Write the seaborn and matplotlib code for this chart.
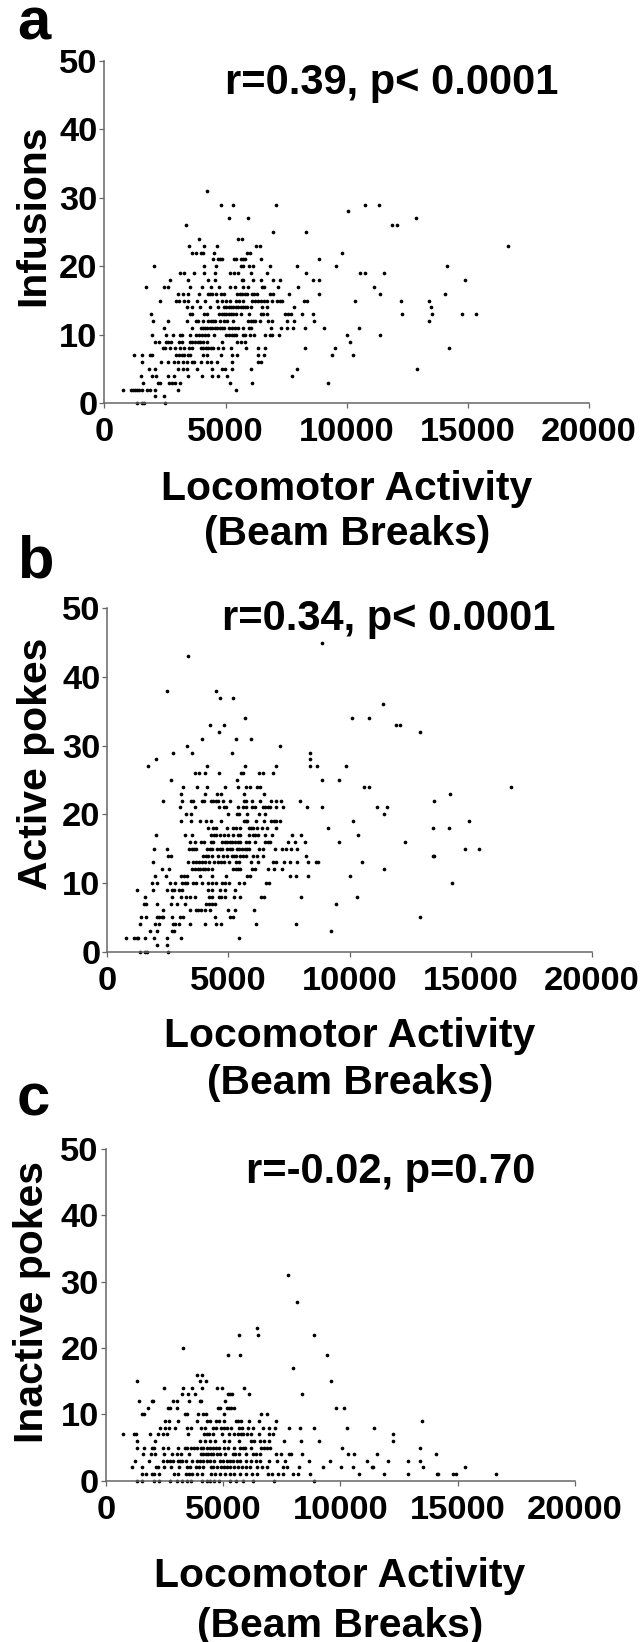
import matplotlib
matplotlib.use("Agg")
import matplotlib.pyplot as plt
import pandas as pd
import seaborn as sns

sns.set_theme(style="white")
plt.rcParams['font.family'] = ['Liberation Sans', 'DejaVu Sans']

# y value of each row of points, with the locomotor counts seen on that row
infusions_y = [31,29,28,27,26,25,24,23,22,21,20,19,18,17,16,15,14,13,12,11,10,9,8,7,6,5,4,3,2,1,0]
infusions_x = [
 [4230],
 [4795,5300,7100,10770,11340],
 [10060],
 [5150,5930,12840],
 [3360,11880,12070],
 [6960,8300],
 [3900,5520,5670],
 [3480,4110,4630,6250,6410,16650],
 [3620,3780,4000,4070,4520,5890,5990,9810],
 [4490,4670,4780,4860,5330,5410,5620,5700,5780,6440,8850],
 [2030,4110,4590,5630,5730,5960,6150,6840,7950,9550,14120],
 [3120,3290,3700,4110,4560,5180,5340,5520,6040,6700,8330,10550,10770,11540],
 [2710,3450,4270,4560,5660,5730,6150,6450,6950,7250,8620,8840,14900],
 [1700,2440,2620,3510,4030,4380,4710,5180,5380,5730,5930,6490,6580,7180,7970,11110],
 [3040,3220,3430,3890,4270,4360,4450,4600,4800,4950,5480,5580,5670,5800,5900,6100,6180,6280,6840,6970,7600,8840,11380,14050],
 [2300,2970,3060,3270,3440,3810,4160,4660,4850,5010,5180,5430,5550,5700,6070,6230,6350,6480,6580,6690,6930,7110,7230,7340,8220,8340,10320,12240,13400],
 [3410,3620,3950,4370,4690,4930,5010,5120,5230,5320,5430,5530,5620,5700,5800,5890,6040,6490,6700,7820,13460],
 [1920,3510,3600,4110,4230,4740,4840,4930,5010,5120,5230,5320,5430,5630,5950,6440,6550,6710,7470,7580,7700,8150,8620,12270,13500,14750,15330],
 [2010,2620,3410,3780,3880,4080,4290,4380,4490,4580,4770,4930,5070,5290,5930,6040,6140,6230,6410,6750,6930,7550,7840,8660,13400],
 [2470,3630,3970,4060,4150,4250,4360,4450,4560,4660,4770,4860,4950,5150,5260,5380,5520,5700,5950,6030,6880,7290,7520,7780,8290,9080,10490],
 [1950,2530,2810,3100,3210,3530,3790,3890,4030,4150,4290,4520,5000,5150,5260,5360,5440,5730,5800,6000,6180,6620,6840,6930,7210,10000,11380],
 [2070,2230,2530,2640,2740,3060,3210,3510,3600,3740,3850,3960,4080,4230,4840,5470,5630,5820,10120],
 [2400,2480,2710,2920,3120,3300,3490,3600,3990,4080,4190,4290,4380,4490,4670,4880,5210,5860,6330,6640,8260,9520,14220],
 [1230,1550,1860,1960,2960,3060,3190,3300,3440,3530,4080,4250,4810,5260,5470,6320,6580,9410,10270],
 [1560,2320,2640,2850,3030,3220,3410,3620,3700,3970,4220,4410,4660,5270,6340,6480],
 [1850,2070,3030,3220,3400,3810,4450,4850,4960,5250,6060,7960,12890],
 [1520,1970,2120,2630,2850,3430,4010,4450,4700,5040,7750],
 [1600,2190,2300,2660,2790,2930,3120,5190,6100,9220],
 [750,1090,1180,1260,1340,1420,1550,1750,1890,2080,3040,5440],
 [2080,2470],
 [1340,1550,1640,2480],
]

active_y = [45,43,38,37,36,34,33,32,31,30,29,28,27,26,25,24,23,22,21,20,19,18,17,16,15,14,13,12,11,10,9,8,7,6,5,4,3,2,1,0]
active_x = [
 [8860],
 [3350],
 [2460,4500],
 [4640,5200],
 [11370],
 [5680,10080,10790],
 [4240,4810,11910,12090],
 [4600,12890],
 [3910,5310,5950],
 [3280,7110],
 [2720,3490,5160,8360],
 [2030,8350],
 [1700,4100,5680,6970,8350,8640,9830],
 [3620,3780,4040,4590,5530,5590,6260,6410,6850],
 [2610,5340,8870,9580],
 [3140,3690,4100,4860,5410,5740,5900,6160,6300,10590,10780,16660],
 [3060,4040,4520,4680,5620,6450,14130],
 [2310,3090,3450,3530,3900,4010,4280,4370,4480,4560,4760,5050,5630,5710,5990,6300,6760,6960,7180,7960,13480],
 [2990,3620,4610,4830,4890,5380,5600,5710,5990,6080,6430,6520,6620,6710,6950,7260,8250,8870,11130,11550],
 [3240,3450,4970,5350,5450,5770,6250,6520,11420],
 [3060,3450,3820,4090,4270,4700,5620,5710,5780,6120,6450,6770,6870,6970,7110,10130,14920],
 [4170,4370,4480,4920,5190,5300,5460,5840,5930,6030,6180,6370,6580,6970,9100,13420,14080],
 [2020,3210,3500,4280,4390,4500,4670,4830,4990,5200,5380,5490,5840,6030,6110,6230,6510,6780,7620,7980,10340],
 [3430,3620,3870,3980,4260,4350,4750,4860,4940,5050,5130,5270,5380,5480,5710,5850,6100,6510,6620,6710,7470,7730,8160,9560,12270],
 [1940,2460,3380,3490,3580,3680,4120,4230,4320,4540,4640,4750,4940,5050,5150,5340,5440,5550,5670,5770,5850,6250,6440,6930,7190,7370,7570,7840,14780,15340],
 [2510,2640,3950,4060,4170,4310,4560,4760,4940,5130,5220,5330,5460,5600,5740,6010,6190,6430,8180,13420,13500],
 [1890,3350,3540,3640,3780,3900,4040,4200,4390,4570,4680,4830,5030,5290,5450,5930,6210,6840,6950,7280,7550,7840,8290,8620,8700,10520],
 [2240,2530,3510,3620,3730,3840,3950,4050,4160,4320,5180,5290,5380,5490,5970,6110,6620,6890,7220,11400],
 [1960,2420,3060,3170,3280,3830,4300,4900,5780,5880,7520,7800,8280,10020],
 [1830,2060,2600,2810,3090,3200,3270,3530,3640,3900,4150,4320,4490,4750,4870,5030,5450,5640,6560,6660,14220],
 [1220,1880,2460,2690,2770,2950,3100,4150,4340,4640,4850,5260],
 [1570,2690,3030,3230,3430,3620,4200,4300,4610,4700,4860,5220,5460,6330,6470,7980,10300],
 [1510,1580,2070,2640,2860,3200,4090,4200,4310,4450,9430],
 [2310,3420,3650,3760,3870,4040,4240,4980,5260,6070],
 [1390,1610,2060,2140,2240,2310,2650,3010,3120,4460,5050,5200,12910],
 [1350,1950,2140,2720,2790,2950,3430,4020,4480,4710,6120,7770],
 [1780,2070,2680,2770,9240],
 [760,1100,1210,1280,1550,1920,2460,3050,5450],
 [2070,2460],
 [1330,1540,1620,2490],
]

inactive_y = [31,27,23,22,20,19,17,16,15,14,13,12,11,10,9,8,7,6,5,4,3,2,1,0]
inactive_x = [
 [7770],
 [8170],
 [6460],
 [5690,6480,8880],
 [3290],
 [5200,5740,9440],
 [7980],
 [3880,4090],
 [1350,4030,4260,9590],
 [2470,3290,3690,4090,4730,4970,5890],
 [3240,3490,3810,5230,5300,5370,6120,8360],
 [1410,1970,2030,2870,3050,3550,4020,4080,5070],
 [1790,2640,2740,3050,4770,4860,5150,5250,5350,5450,9830,10140],
 [1560,1650,3370,3460,3920,4130,4290,5060,6630,6890],
 [2540,2680,3100,3880,4330,4430,4690,4830,5030,5540,5650,5780,6110,6550,7260,13470],
 [2330,2540,2680,2940,3450,3640,4060,4250,4560,4700,4900,5060,5180,5350,5680,5790,6060,6260,6700,6970,7230,7810,8280,8880,10300,11420],
 [750,1210,1290,1900,2240,2460,2630,3520,4190,4300,4400,4570,4940,5270,5470,5650,5750,5860,6010,6210,6530,6970,7110,12230],
 [1330,2090,4020,4230,4440,4660,5060,5250,5680,6180,6320,6570,6750,6960,7610,8310,9100,12250],
 [1350,1620,1960,2070,2460,2670,3100,3370,3450,3640,3750,3880,4060,4160,4330,4440,4560,4700,4810,5060,5230,5470,5710,5860,5950,6180,6630,6750,6860,7000,10080,13410],
 [1580,1920,2100,2490,2830,3050,3200,3540,4060,4160,4260,4360,4470,4570,4730,4870,5080,5410,5500,5690,5980,6290,6400,6590,7260,7470,7810,7910,8350,10340,10580,11560,14080],
 [1240,1850,2430,2630,2740,2850,3070,3170,3270,3420,3660,3880,4020,4160,4330,4440,4630,4870,4980,5150,5300,5440,5580,5720,5980,6180,6400,6570,6970,7310,7640,8650,9560,11130,12040,12900,13400],
 [1120,1530,2140,2220,2470,2800,3140,3450,3590,3830,3990,4130,4470,4590,4730,4900,5060,5180,5300,5470,5620,5790,5980,6150,6430,6650,6860,7540,7740,8250,9240,10040,10520,11370,11410,13510,15320],
 [1550,1700,1960,2070,2290,2930,3100,3410,3550,3690,3880,4120,4470,4660,4870,5080,5300,5480,5720,5980,6220,6430,6920,7090,7360,7540,8000,8180,8690,10790,11870,12870,14110,14180,14780,14910,16650],
 [1330,1560,2060,2290,2740,3050,3240,3450,3640,4120,4300,4440,4610,4840,5300,5550,5860,6290,7170,8880],
]

x_ticks = [0, 5000, 10000, 15000, 20000]
y_ticks = [0, 10, 20, 30, 40, 50]
x_title = ["Locomotor Activity", "(Beam Breaks)"]
y_titles = ["Infusions", "Active pokes", "Inactive pokes"]
stat_texts = ["r=0.39, p< 0.0001", "r=0.34, p< 0.0001", "r=-0.02, p=0.70"]
panel_letters = ["a", "b", "c"]

W, H = 644, 1642
fig = plt.figure(figsize=(W / 100, H / 100), dpi=100, facecolor="white")


def frame(ys, xs):
    rows = [(x, y) for y, row in zip(ys, xs) for x in row]
    return pd.DataFrame(rows, columns=["x", "y"])


def put(x, y, s, **kw):
    fig.text(x / W, 1 - y / H, s, fontweight="bold", color="black", **kw)


panels = [
    dict(d=frame(infusions_y, infusions_x), box=(104.5, 60.7, 589, 403.3), i=0,
         letter=(17, 40), stat=(225, 94), ylab=(33, 215), xl=(347, 500, 545)),
    dict(d=frame(active_y, active_x), box=(107.3, 608.3, 592, 951.7), i=1,
         letter=(17, 578), stat=(222, 630), ylab=(36, 764), xl=(350, 1047, 1094)),
    dict(d=frame(inactive_y, inactive_x), box=(105.7, 1149, 575, 1480.7), i=2,
         letter=(17, 1115), stat=(246, 1183), ylab=(32, 1302), xl=(340, 1587, 1637)),
]

for p in panels:
    l, t, r, b = p["box"]
    ax = fig.add_axes([l / W, 1 - b / H, (r - l) / W, (b - t) / H])
    sns.scatterplot(data=p["d"], x="x", y="y", ax=ax, s=7, color="black",
                    linewidth=0, clip_on=False)
    ax.set_xlim(0, 20000)
    ax.set_ylim(0, 50)
    ax.set_xticks(x_ticks)
    ax.set_yticks(y_ticks)
    ax.set_xlabel("")
    ax.set_ylabel("")
    ax.patch.set_alpha(0)
    for side in ("top", "right"):
        ax.spines[side].set_visible(False)
    for side in ("left", "bottom"):
        ax.spines[side].set_color("#666666")
        ax.spines[side].set_linewidth(1.1)
    ax.tick_params(axis="both", which="major", bottom=True, left=True, length=3.5,
                   width=0.9, color="#666666", labelsize=24.8, pad=1.5, labelcolor="black")
    ax.tick_params(axis="x", pad=6.5)
    for lab in ax.get_xticklabels() + ax.get_yticklabels():
        lab.set_fontweight("bold")
    i = p["i"]
    put(*p["letter"], panel_letters[i], fontsize=43, ha="left", va="baseline")
    put(*p["stat"], stat_texts[i], fontsize=30, ha="left", va="baseline")
    put(*p["ylab"], y_titles[i], fontsize=29.4, ha="center", va="center", rotation=90)
    cx, y1, y2 = p["xl"]
    put(cx, y1, x_title[0], fontsize=29.4, ha="center", va="baseline")
    put(cx, y2, x_title[1], fontsize=29.4, ha="center", va="baseline")

fig.savefig("out.png", dpi=100)
